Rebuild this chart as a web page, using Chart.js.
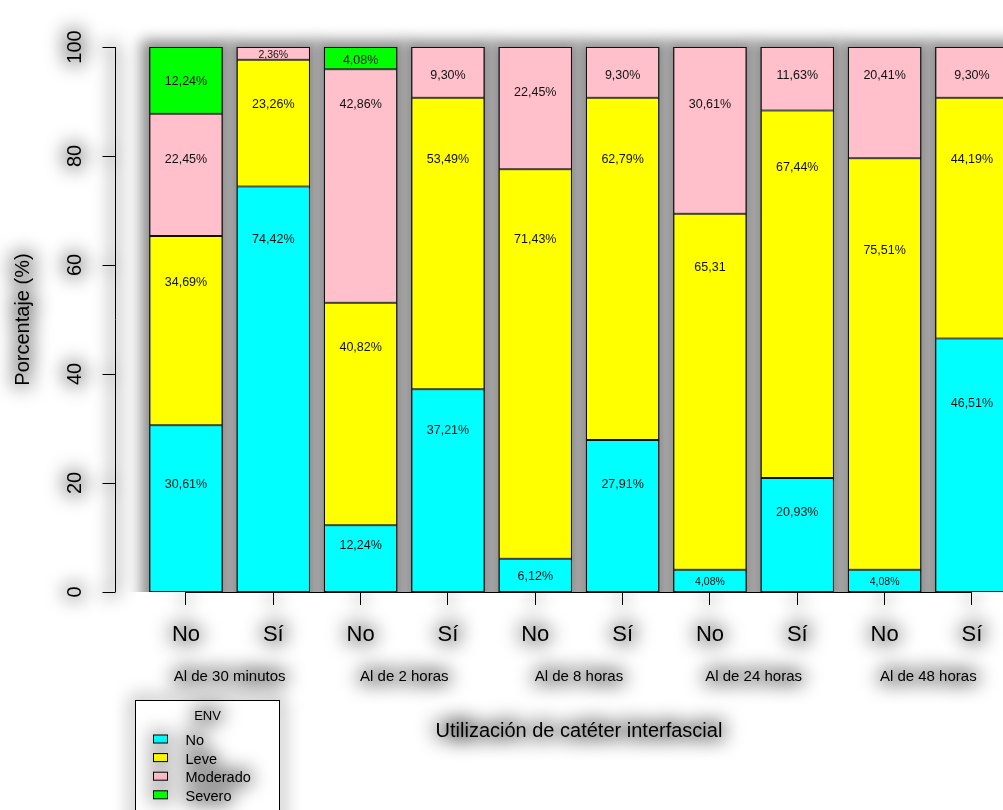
<!DOCTYPE html>
<html>
<head>
<meta charset="utf-8">
<title>ENV según utilización de catéter interfascial</title>
<style>
  html, body { margin: 0; padding: 0; background: #fff; overflow: hidden; width: 1003px; height: 810px; }
  canvas { display: block; }
</style>
<script src="https://cdn.jsdelivr.net/npm/chart.js@4.4.1/dist/chart.umd.min.js"></script>
</head>
<body>
<canvas id="chart" width="1020" height="810" style="width:1020px;height:810px"></canvas>
<script>
// Bars: catheter use (No / Sí) at each follow-up time
const categories = ['No', 'Sí', 'No', 'Sí', 'No', 'Sí', 'No', 'Sí', 'No', 'Sí'];
const periods = ['Al de 30 minutos', 'Al de 2 horas', 'Al de 8 horas', 'Al de 24 horas', 'Al de 48 horas'];
const yTicks = [0, 20, 40, 60, 80, 100];

// ENV category percentages per bar (stacked bottom to top)
const envNo       = [30.61, 74.42, 12.24, 37.21, 6.12, 27.91, 4.08, 20.93, 4.08, 46.51];
const envLeve     = [34.69, 23.26, 40.82, 53.49, 71.43, 62.79, 65.31, 67.44, 75.51, 44.19];
const envModerado = [22.45, 2.36, 42.86, 9.30, 22.45, 9.30, 30.61, 11.63, 20.41, 9.30];
const envSevero   = [12.24, 0, 4.08, 0, 0, 0, 0, 0, 0, 0];

// Value labels printed on the segments
const textNo       = ['30,61%', '74,42%', '12,24%', '37,21%', '6,12%', '27,91%', '4,08%', '20,93%', '4,08%', '46,51%'];
const textLeve     = ['34,69%', '23,26%', '40,82%', '53,49%', '71,43%', '62,79%', '65,31', '67,44%', '75,51%', '44,19%'];
const textModerado = ['22,45%', '2,36%', '42,86%', '9,30%', '22,45%', '9,30%', '30,61%', '11,63%', '20,41%', '9,30%'];
const textSevero   = ['12,24%', '', '4,08%', '', '', '', '', '', '', ''];

// Height (percentage scale) at which each value label is printed
const atNo       = [19.8, 64.6, 8.6, 29.7, 2.8, 19.8, 1.8, 14.5, 1.8, 34.5];
const atLeve     = [56.7, 89.5, 44.8, 79.3, 64.6, 79.3, 59.6, 77.8, 62.6, 79.3];
const atModerado = [79.4, 98.5, 89.5, 94.7, 91.6, 94.7, 89.5, 94.7, 94.7, 94.7];
const atSevero   = [93.6, 0, 97.6, 0, 0, 0, 0, 0, 0, 0];

const FONT = "'Liberation Sans', Arial, Helvetica, sans-serif";
const TICK_FONT = 22, TICK_LEN = 13, TICK_PAD = 17;

const series = [
  { label: 'No',       data: envNo,       color: '#00FFFF', text: textNo,       at: atNo },
  { label: 'Leve',     data: envLeve,     color: '#FFFF00', text: textLeve,     at: atLeve },
  { label: 'Moderado', data: envModerado, color: '#FFC0CB', text: textModerado, at: atModerado },
  { label: 'Severo',   data: envSevero,   color: '#00FF00', text: textSevero,   at: atSevero }
];

// soft grey glow painted underneath texts and axis strokes
function withGlow(ctx, paint) {
  ctx.save();
  ctx.filter = 'blur(9px)';
  ctx.globalAlpha = 0.26;
  ctx.strokeStyle = '#000';
  ctx.fillStyle = '#000';
  ctx.lineWidth = 11;
  ctx.lineJoin = 'round';
  paint(ctx);
  ctx.restore();
}
function glowText(ctx, text, x, y) {
  withGlow(ctx, c => {
    c.font = ctx.font; c.textAlign = ctx.textAlign; c.textBaseline = ctx.textBaseline;
    c.strokeText(text, x, y);
  });
  ctx.fillText(text, x, y);
}

const decorations = {
  id: 'decorations',
  beforeDraw(chart) {
    // glow under the category ticks drawn by the x scale
    const ctx = chart.ctx, x = chart.scales.x;
    ctx.save();
    const ly = x.top + TICK_LEN + TICK_PAD + TICK_FONT * 1.2 / 2;
    withGlow(ctx, c => {
      c.font = TICK_FONT + 'px ' + FONT; c.textAlign = 'center'; c.textBaseline = 'middle';
      x.ticks.forEach((t, i) => {
        const px = x.getPixelForTick(i);
        c.strokeText(categories[i], px, ly);
        c.beginPath(); c.moveTo(px, x.top); c.lineTo(px, x.top + TICK_LEN); c.stroke();
      });
      c.font = '20px ' + FONT;
      c.strokeText(x.options.title.text, (x.left + x.right) / 2, x.bottom - 67 - 12);
    });
    ctx.restore();
  },
  beforeDatasetsDraw(chart) {
    const ctx = chart.ctx;
    const y = chart.scales.y, x = chart.scales.x;
    const top = y.getPixelForValue(100), bot = y.getPixelForValue(0);
    const bars = chart.getDatasetMeta(0).data;
    // dark blurred shade behind every column
    ctx.save();
    ctx.beginPath();
    ctx.rect(0, 0, chart.width, bot);
    ctx.clip();
    ctx.filter = 'blur(7px)';
    ctx.fillStyle = '#8a8a8a';
    bars.forEach(b => ctx.fillRect(b.x - b.width / 2 - 8, top - 7, b.width + 16, bot - top + 20));
    ctx.restore();
    // baseline running from the first to the last tick
    ctx.save();
    ctx.strokeStyle = '#000';
    ctx.lineWidth = 1;
    ctx.beginPath();
    ctx.moveTo(x.getPixelForTick(0), Math.round(bot) + 0.5);
    ctx.lineTo(x.getPixelForTick(categories.length - 1), Math.round(bot) + 0.5);
    ctx.stroke();
    ctx.restore();
  },
  afterDatasetsDraw(chart) {
    const ctx = chart.ctx;
    const y = chart.scales.y;
    const top = y.getPixelForValue(100), bot = y.getPixelForValue(0);
    const bars = chart.getDatasetMeta(0).data;
    ctx.save();
    // column outlines
    ctx.strokeStyle = '#111';
    ctx.lineWidth = 1;
    bars.forEach(b => ctx.strokeRect(b.x - b.width / 2 + 0.5, top + 0.5, b.width - 1, bot - top - 1));
    // value labels
    ctx.fillStyle = '#111';
    ctx.textAlign = 'center';
    ctx.textBaseline = 'middle';
    series.forEach((s, i) => {
      const meta = chart.getDatasetMeta(i);
      s.text.forEach((t, j) => {
        if (!t) return;
        const py = y.getPixelForValue(s.at[j]);
        // labels squeezed against the end of a column use a smaller size
        const tight = (py - top) < 12 || (bot - py) < 12;
        ctx.font = (tight ? '10.5px ' : '12.5px ') + FONT;
        ctx.fillText(t, meta.data[j].x, py);
      });
    });
    ctx.restore();
  },
  afterDraw(chart) {
    const ctx = chart.ctx;
    const area = chart.chartArea;
    const y = chart.scales.y, x = chart.scales.x;
    const top = y.getPixelForValue(100), bot = y.getPixelForValue(0);
    ctx.save();
    ctx.fillStyle = '#000';
    ctx.strokeStyle = '#000';
    ctx.lineWidth = 1;

    // left axis, set off from the columns
    const ax = Math.round(area.left - 27) + 0.5;
    const axisPath = c => {
      c.beginPath();
      c.moveTo(ax, top); c.lineTo(ax, bot);
      yTicks.forEach(v => {
        const p = Math.round(y.getPixelForValue(v)) + 0.5;
        c.moveTo(ax, p); c.lineTo(ax - 13, p);
      });
      c.stroke();
    };
    withGlow(ctx, axisPath);
    axisPath(ctx);

    ctx.font = '20px ' + FONT;
    ctx.textAlign = 'center';
    ctx.textBaseline = 'middle';
    yTicks.forEach(v => {
      ctx.save();
      ctx.translate(ax - 40, y.getPixelForValue(v));
      ctx.rotate(-Math.PI / 2);
      glowText(ctx, String(v), 0, 0);
      ctx.restore();
    });
    ctx.save();
    ctx.translate(ax - 92, (top + bot) / 2);
    ctx.rotate(-Math.PI / 2);
    glowText(ctx, 'Porcentaje (%)', 0, 0);
    ctx.restore();

    // follow-up time under each pair of bars
    ctx.font = '15px ' + FONT;
    periods.forEach((p, k) => {
      const cx = (x.getPixelForValue(2 * k) + x.getPixelForValue(2 * k + 1)) / 2;
      glowText(ctx, p, cx, bot + 85);
    });

    // legend
    const lx = 135.5, ly = 700.5;
    withGlow(ctx, c => c.strokeRect(lx, ly, 144, 130));
    ctx.fillStyle = '#fff';
    ctx.fillRect(lx, ly, 144, 130);
    ctx.strokeRect(lx, ly, 144, 130);
    ctx.fillStyle = '#000';
    ctx.font = '13px ' + FONT;
    glowText(ctx, 'ENV', lx + 72, ly + 15.5);
    ctx.textAlign = 'left';
    ctx.font = '14.5px ' + FONT;
    chart.data.datasets.forEach((ds, i) => {
      const ry = ly + 40.5 + i * 18.6;
      withGlow(ctx, c => c.strokeRect(lx + 18, ry - 6, 14, 8));
      ctx.fillStyle = ds.backgroundColor;
      ctx.fillRect(lx + 18, ry - 6, 14, 8);
      ctx.strokeRect(lx + 18, ry - 6, 14, 8);
      ctx.fillStyle = '#000';
      glowText(ctx, ds.label, lx + 50, ry);
    });
    ctx.restore();
  }
};

new Chart(document.getElementById('chart'), {
  type: 'bar',
  data: {
    labels: categories,
    datasets: series.map(s => ({
      label: s.label,
      data: s.data,
      backgroundColor: s.color,
      borderColor: '#111',
      borderWidth: 1,
      borderSkipped: false,
      barPercentage: 0.84,
      categoryPercentage: 1
    }))
  },
  options: {
    responsive: false,
    animation: false,
    devicePixelRatio: 1,
    layout: { padding: { left: 142.3, right: 4.4, top: 47, bottom: 0 } },
    plugins: { legend: { display: false }, title: { display: false }, tooltip: { enabled: false } },
    scales: {
      y: { stacked: true, min: 0, max: 100, display: false },
      x: {
        stacked: true,
        grid: { display: true, drawOnChartArea: false, drawTicks: true, tickLength: TICK_LEN, tickColor: '#000', offset: false },
        border: { display: false },
        ticks: { color: '#000', font: { family: FONT, size: TICK_FONT }, padding: TICK_PAD, maxRotation: 0, autoSkip: false },
        title: {
          display: true,
          text: 'Utilización de catéter interfascial',
          color: '#000',
          font: { family: FONT, size: 20 },
          padding: { top: 53.6, bottom: 67 }
        }
      }
    }
  },
  plugins: [decorations]
});
</script>
</body>
</html>
